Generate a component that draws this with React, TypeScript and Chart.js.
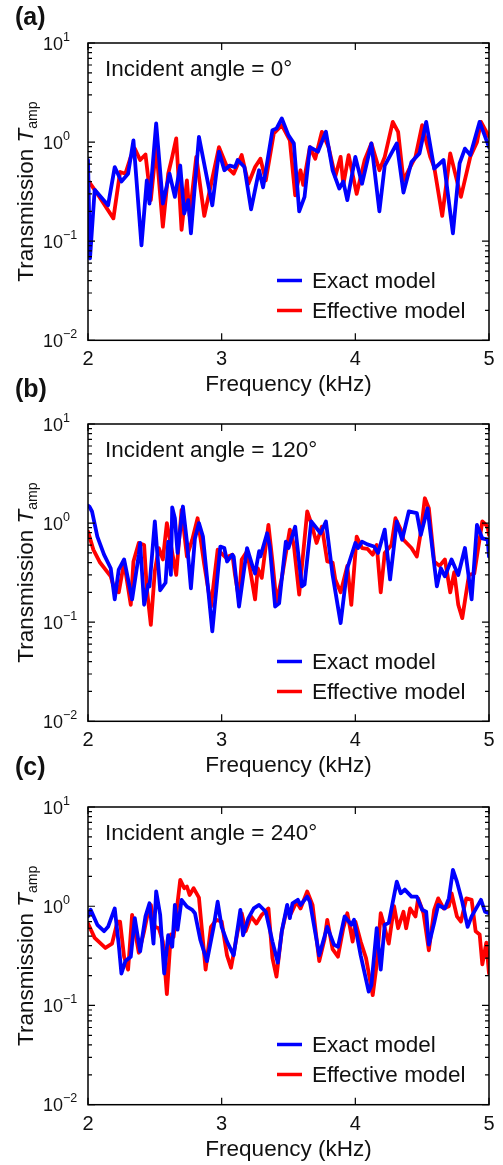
import React, { useEffect, useRef } from "react";
import { Chart, registerables } from "chart.js";

Chart.register(...registerables);

const FONT = '"Liberation Sans", Arial, Helvetica, sans-serif';

const xTicks = [2, 3, 4, 5];
const yDecades = [0.01, 0.1, 1, 10];
const yExponents = ["\u22122", "\u22121", "0", "1"];
const panelLetters = ["(a)", "(b)", "(c)"];
const angleLabels = ["Incident angle = 0°", "Incident angle = 120°", "Incident angle = 240°"];
const seriesNames = ["Exact model", "Effective model"];
const xTitle = "Frequency (kHz)";

// Panel (a), incident angle 0°
const aExact: [number, number][] = [
  [2.0, 0.66], [2.015, 0.067], [2.05, 0.33], [2.15, 0.23], [2.2, 0.56], [2.25, 0.4], [2.3, 0.48], [2.34, 1.04],
  [2.4, 0.091], [2.44, 0.41], [2.46, 0.24], [2.51, 1.54], [2.56, 0.24], [2.61, 0.48], [2.65, 0.28], [2.69, 0.58],
  [2.72, 0.19], [2.75, 0.26], [2.77, 0.12], [2.83, 1.13], [2.93, 0.23], [2.98, 0.8], [3.02, 0.52], [3.06, 0.58],
  [3.1, 0.56], [3.12, 0.66], [3.17, 0.56], [3.22, 0.21], [3.28, 0.52], [3.31, 0.35], [3.38, 1.32], [3.41, 1.37],
  [3.45, 1.73], [3.5, 1.17], [3.54, 0.97], [3.58, 0.2], [3.62, 0.28], [3.66, 0.89], [3.72, 0.8], [3.78, 1.27],
  [3.83, 0.52], [3.88, 0.34], [3.91, 0.4], [3.94, 0.26], [4.0, 0.71], [4.05, 0.38], [4.12, 0.97], [4.18, 0.2],
  [4.22, 0.58], [4.31, 0.97], [4.36, 0.31], [4.42, 0.63], [4.48, 0.77], [4.53, 1.6], [4.59, 0.54], [4.66, 0.66],
  [4.73, 0.12], [4.78, 0.61], [4.82, 0.86], [4.86, 0.74], [4.93, 1.6], [5.0, 0.89],
];
const aEffective: [number, number][] = [
  [2.0, 0.41], [2.05, 0.33], [2.19, 0.17], [2.24, 0.5], [2.28, 0.48], [2.32, 0.71], [2.35, 0.86], [2.39, 0.66],
  [2.43, 0.75], [2.47, 0.26], [2.51, 0.89], [2.56, 0.14], [2.6, 0.48], [2.63, 0.71], [2.66, 1.09], [2.7, 0.13],
  [2.74, 0.41], [2.76, 0.18], [2.81, 0.71], [2.87, 0.18], [2.98, 0.89], [3.04, 0.56], [3.09, 0.48], [3.15, 0.74],
  [3.2, 0.38], [3.25, 0.56], [3.29, 0.68], [3.33, 0.41], [3.39, 1.22], [3.45, 1.48], [3.51, 1.04], [3.55, 0.29],
  [3.59, 0.52], [3.61, 0.37], [3.66, 0.89], [3.7, 0.68], [3.75, 1.27], [3.8, 0.89], [3.85, 0.45], [3.89, 0.71],
  [3.91, 0.37], [3.95, 0.74], [4.01, 0.3], [4.07, 0.66], [4.12, 0.97], [4.18, 0.52], [4.22, 0.71], [4.28, 1.6],
  [4.32, 1.27], [4.36, 0.41], [4.41, 0.56], [4.45, 0.71], [4.5, 1.48], [4.56, 0.71], [4.59, 0.56], [4.65, 0.18],
  [4.71, 0.77], [4.76, 0.41], [4.79, 0.28], [4.86, 0.71], [4.91, 1.0], [4.94, 1.6], [5.0, 1.13],
];

// Panel (b), incident angle 120°
const bExact: [number, number][] = [
  [2.0, 1.5], [2.01, 1.47], [2.03, 1.31], [2.07, 0.73], [2.12, 0.48], [2.17, 0.35], [2.2, 0.17], [2.23, 0.34],
  [2.27, 0.43], [2.33, 0.17], [2.38, 0.48], [2.39, 0.63], [2.42, 0.15], [2.45, 0.24], [2.46, 0.23], [2.5, 1.04],
  [2.54, 0.21], [2.58, 0.25], [2.6, 0.65], [2.62, 0.3], [2.63, 1.44], [2.65, 1.12], [2.67, 0.5], [2.71, 1.47],
  [2.74, 0.65], [2.77, 0.22], [2.8, 0.7], [2.83, 1.0], [2.86, 0.73], [2.93, 0.081], [2.99, 0.58], [3.02, 0.56],
  [3.04, 0.41], [3.08, 0.48], [3.09, 0.46], [3.13, 0.144], [3.19, 0.56], [3.23, 0.37], [3.25, 0.31], [3.28, 0.52],
  [3.29, 0.46], [3.34, 0.79], [3.36, 0.58], [3.4, 0.144], [3.43, 0.155], [3.48, 0.65], [3.5, 0.56], [3.55, 0.92],
  [3.6, 0.23], [3.62, 0.24], [3.67, 1.04], [3.74, 0.79], [3.78, 1.04], [3.83, 0.3], [3.89, 0.098], [3.94, 0.35],
  [4.0, 0.63], [4.02, 0.56], [4.05, 0.65], [4.09, 0.61], [4.14, 0.58], [4.17, 0.5], [4.22, 0.86], [4.26, 0.27],
  [4.31, 1.04], [4.35, 0.68], [4.4, 1.31], [4.46, 1.26], [4.49, 0.76], [4.54, 1.41], [4.61, 0.23], [4.64, 0.35],
  [4.67, 0.29], [4.72, 0.43], [4.77, 0.3], [4.82, 0.56], [4.87, 0.17], [4.91, 0.96], [4.95, 0.7], [4.99, 0.68],
  [5.0, 0.46],
];
const bEffective: [number, number][] = [
  [2.0, 0.82], [2.04, 0.54], [2.09, 0.4], [2.17, 0.29], [2.2, 0.21], [2.23, 0.2], [2.27, 0.4], [2.32, 0.15],
  [2.34, 0.41], [2.38, 0.63], [2.42, 0.6], [2.44, 0.22], [2.47, 0.094], [2.5, 0.33], [2.53, 0.56], [2.56, 0.43],
  [2.59, 1.0], [2.62, 0.6], [2.66, 0.3], [2.7, 1.36], [2.74, 0.46], [2.78, 0.68], [2.82, 1.12], [2.87, 0.38],
  [2.92, 0.144], [2.97, 0.54], [3.03, 0.45], [3.08, 0.48], [3.1, 0.3], [3.13, 0.17], [3.15, 0.43], [3.19, 0.52],
  [3.25, 0.17], [3.27, 0.35], [3.3, 0.28], [3.35, 0.96], [3.38, 0.41], [3.41, 0.16], [3.45, 0.28], [3.51, 0.86],
  [3.54, 0.6], [3.58, 0.19], [3.64, 1.31], [3.67, 1.0], [3.71, 0.63], [3.75, 0.92], [3.79, 0.41], [3.83, 0.4],
  [3.85, 0.27], [3.89, 0.2], [3.94, 0.37], [3.97, 0.15], [4.01, 0.73], [4.05, 0.56], [4.09, 0.55], [4.13, 0.48],
  [4.16, 0.6], [4.19, 0.2], [4.22, 0.5], [4.27, 0.6], [4.3, 1.12], [4.34, 0.86], [4.36, 0.68], [4.42, 0.56],
  [4.46, 0.46], [4.49, 0.81], [4.52, 1.78], [4.55, 1.41], [4.59, 0.41], [4.63, 0.37], [4.67, 0.43], [4.71, 0.2],
  [4.74, 0.32], [4.77, 0.15], [4.8, 0.11], [4.85, 0.3], [4.89, 0.31], [4.95, 1.04], [4.99, 0.92], [5.0, 0.76],
];

// Panel (c), incident angle 240°
const cExact: [number, number][] = [
  [2.0, 0.79], [2.02, 0.92], [2.07, 0.65], [2.12, 0.56], [2.15, 0.62], [2.2, 0.95], [2.23, 0.41], [2.25, 0.21],
  [2.28, 0.28], [2.32, 0.31], [2.35, 0.76], [2.39, 0.35], [2.43, 0.79], [2.46, 1.07], [2.49, 0.42], [2.51, 1.41],
  [2.54, 0.82], [2.57, 0.21], [2.6, 0.51], [2.63, 0.39], [2.65, 1.03], [2.67, 0.58], [2.7, 1.16], [2.74, 0.99],
  [2.78, 0.92], [2.8, 0.85], [2.84, 0.46], [2.89, 0.28], [2.94, 0.62], [2.97, 1.11], [3.0, 0.62], [3.04, 0.44],
  [3.09, 0.32], [3.14, 0.92], [3.16, 0.51], [3.2, 0.76], [3.24, 0.95], [3.28, 1.03], [3.33, 0.88], [3.38, 0.44],
  [3.42, 0.27], [3.45, 0.56], [3.49, 1.03], [3.51, 0.76], [3.53, 1.07], [3.57, 1.16], [3.59, 1.03], [3.64, 1.25],
  [3.66, 1.11], [3.73, 0.32], [3.79, 0.62], [3.84, 0.41], [3.87, 0.39], [3.92, 0.79], [3.97, 0.65], [3.99, 0.73],
  [4.04, 0.32], [4.1, 0.138], [4.12, 0.16], [4.16, 0.6], [4.19, 0.23], [4.22, 0.65], [4.25, 0.68], [4.31, 1.77],
  [4.34, 1.35], [4.37, 1.47], [4.42, 1.25], [4.46, 1.25], [4.5, 0.92], [4.53, 0.88], [4.55, 0.41], [4.59, 0.68],
  [4.62, 1.03], [4.67, 0.95], [4.7, 1.2], [4.73, 2.32], [4.76, 1.77], [4.8, 1.11], [4.84, 0.62], [4.87, 0.79],
  [4.94, 1.16], [4.97, 0.88], [5.0, 0.85],
];
const cEffective: [number, number][] = [
  [2.0, 0.67], [2.05, 0.48], [2.13, 0.38], [2.18, 0.42], [2.22, 0.7], [2.24, 0.7], [2.27, 0.31], [2.3, 0.23],
  [2.33, 0.82], [2.38, 0.34], [2.42, 0.56], [2.45, 0.88], [2.47, 1.03], [2.5, 0.62], [2.53, 0.6], [2.56, 0.44],
  [2.59, 0.13], [2.62, 0.52], [2.64, 0.49], [2.69, 1.84], [2.72, 1.52], [2.74, 1.58], [2.76, 1.3], [2.79, 1.52],
  [2.83, 1.22], [2.88, 0.23], [2.92, 0.62], [2.96, 0.73], [3.0, 0.7], [3.04, 0.32], [3.07, 0.24], [3.12, 0.56],
  [3.15, 0.85], [3.18, 0.56], [3.22, 0.79], [3.26, 0.67], [3.3, 0.82], [3.35, 0.95], [3.38, 0.3], [3.41, 0.195],
  [3.45, 0.56], [3.49, 0.96], [3.52, 0.85], [3.56, 1.11], [3.59, 0.95], [3.64, 1.41], [3.68, 1.03], [3.73, 0.28],
  [3.77, 0.47], [3.79, 0.73], [3.83, 0.37], [3.87, 0.31], [3.91, 0.6], [3.94, 0.85], [3.98, 0.44], [4.0, 0.7],
  [4.04, 0.44], [4.08, 0.3], [4.13, 0.127], [4.16, 0.26], [4.19, 0.85], [4.21, 0.68], [4.25, 0.42], [4.29, 1.0],
  [4.32, 0.6], [4.36, 0.88], [4.38, 0.6], [4.41, 0.95], [4.45, 0.79], [4.47, 1.2], [4.51, 0.85], [4.55, 0.36],
  [4.59, 0.92], [4.62, 1.2], [4.66, 0.95], [4.7, 1.0], [4.72, 1.35], [4.76, 0.79], [4.79, 0.7], [4.83, 1.2],
  [4.87, 1.16], [4.9, 0.56], [4.93, 0.52], [4.95, 0.26], [4.98, 0.43], [5.0, 0.21],
];

const exactSeries = [aExact, bExact, cExact];
const effectiveSeries = [aEffective, bEffective, cEffective];

// layout (pixels)
const W = 503;
const H = 415;
const canvasTops = [0, 370, 750];
const plotTops = [43, 54, 57];
const plotBottoms = [340.3, 351.3, 354.7];
const letterBaselines = [25, 26.6, 25.3];
const PLOT_LEFT = 88;
const PLOT_RIGHT = 489;
const BLUE = "#0000ff";
const RED = "#ff0000";
const TEXT = "#111";

function makeDecor(idx: number) {
  return {
    id: "decor" + idx,
    afterDatasetsDraw(chart: any) {
      const ctx: CanvasRenderingContext2D = chart.ctx;
      const { left, right, top, bottom } = chart.chartArea;
      const xs = chart.scales.x;
      const ys = chart.scales.y;
      ctx.save();
      ctx.strokeStyle = "#000";
      ctx.fillStyle = TEXT;

      // frame
      ctx.lineWidth = 1.5;
      ctx.strokeRect(left, top, right - left, bottom - top);

      // ticks (inward, mirrored)
      ctx.lineWidth = 1.2;
      ctx.beginPath();
      for (const v of xTicks) {
        const px = xs.getPixelForValue(v);
        ctx.moveTo(px, bottom);
        ctx.lineTo(px, bottom - 7);
        ctx.moveTo(px, top);
        ctx.lineTo(px, top + 7);
      }
      for (let d = 0; d < yDecades.length; d++) {
        const base = yDecades[d];
        const py = ys.getPixelForValue(base);
        ctx.moveTo(left, py);
        ctx.lineTo(left + 7, py);
        ctx.moveTo(right, py);
        ctx.lineTo(right - 7, py);
        if (d < yDecades.length - 1) {
          for (let m = 2; m <= 9; m++) {
            const pm = ys.getPixelForValue(base * m);
            ctx.moveTo(left, pm);
            ctx.lineTo(left + 4, pm);
            ctx.moveTo(right, pm);
            ctx.lineTo(right - 4, pm);
          }
        }
      }
      ctx.stroke();

      // x tick labels
      ctx.textBaseline = "alphabetic";
      ctx.textAlign = "center";
      ctx.font = `20px ${FONT}`;
      for (const v of xTicks) {
        ctx.fillText(String(v), xs.getPixelForValue(v), bottom + 25);
      }

      // y tick labels 10^n
      for (let d = 0; d < yDecades.length; d++) {
        const py = ys.getPixelForValue(yDecades[d]);
        ctx.textAlign = "right";
        ctx.font = `18px ${FONT}`;
        ctx.fillText("10", left - 25, py + 6.5);
        ctx.textAlign = "left";
        ctx.font = `12.5px ${FONT}`;
        ctx.fillText(yExponents[d], left - 25, py - 2.5);
      }

      // x title
      ctx.textAlign = "center";
      ctx.font = `22.5px ${FONT}`;
      ctx.fillText(xTitle, (left + right) / 2, bottom + 51);

      // y title (rotated) "Transmission T_amp"
      ctx.save();
      ctx.translate(33, (top + bottom) / 2);
      ctx.rotate(-Math.PI / 2);
      ctx.textAlign = "left";
      const mainFont = `22.5px ${FONT}`;
      const italFont = `italic 22.5px ${FONT}`;
      const subFont = `14px ${FONT}`;
      ctx.font = mainFont;
      const w1 = ctx.measureText("Transmission ").width;
      ctx.font = italFont;
      const w2 = ctx.measureText("T").width;
      ctx.font = subFont;
      const w3 = ctx.measureText("amp").width;
      const total = w1 + w2 + w3;
      let tx = -total / 2;
      ctx.font = mainFont;
      ctx.fillText("Transmission ", tx, 0);
      tx += w1;
      ctx.font = italFont;
      ctx.fillText("T", tx, 0);
      tx += w2;
      ctx.font = subFont;
      ctx.fillText("amp", tx, 4);
      ctx.restore();

      // annotation
      ctx.textAlign = "left";
      ctx.font = `22.5px ${FONT}`;
      ctx.fillText(angleLabels[idx], left + 17, top + 33);

      // legend
      const colors = [BLUE, RED];
      const lineYs = [top + 237.5, top + 267.5];
      const textYs = [top + 245, top + 275];
      for (let i = 0; i < 2; i++) {
        ctx.strokeStyle = colors[i];
        ctx.lineWidth = 3.5;
        ctx.beginPath();
        ctx.moveTo(left + 189, lineYs[i]);
        ctx.lineTo(left + 214, lineYs[i]);
        ctx.stroke();
        ctx.fillStyle = TEXT;
        ctx.fillText(seriesNames[i], left + 224, textYs[i]);
      }

      // panel letter
      ctx.font = `bold 25px ${FONT}`;
      ctx.fillText(panelLetters[idx], 15, letterBaselines[idx]);

      ctx.restore();
    },
  };
}

function Panel({ idx }: { idx: number }) {
  const ref = useRef<HTMLCanvasElement>(null);
  useEffect(() => {
    if (!ref.current) return;
    const chart = new Chart(ref.current, {
      type: "line",
      data: {
        datasets: [
          {
            label: seriesNames[0],
            data: exactSeries[idx].map(([x, y]) => ({ x, y })),
            borderColor: BLUE,
            backgroundColor: BLUE,
          },
          {
            label: seriesNames[1],
            data: effectiveSeries[idx].map(([x, y]) => ({ x, y })),
            borderColor: RED,
            backgroundColor: RED,
          },
        ],
      },
      options: {
        responsive: false,
        animation: false,
        devicePixelRatio: 1,
        layout: {
          padding: {
            left: PLOT_LEFT,
            right: W - PLOT_RIGHT,
            top: plotTops[idx],
            bottom: H - plotBottoms[idx],
          },
        },
        elements: {
          point: { radius: 0, hoverRadius: 0 },
          line: { borderWidth: 3.8, tension: 0, borderJoinStyle: "round", borderCapStyle: "round" },
        },
        plugins: { legend: { display: false }, tooltip: { enabled: false } },
        scales: {
          x: { type: "linear", min: 2, max: 5, display: false },
          y: { type: "logarithmic", min: 0.01, max: 10, display: false },
        },
      } as any,
      plugins: [makeDecor(idx)],
    });
    return () => chart.destroy();
  }, [idx]);
  return (
    <canvas
      ref={ref}
      width={W}
      height={H}
      style={{ position: "absolute", left: 0, top: canvasTops[idx], width: W, height: H }}
    />
  );
}

export default function App() {
  return (
    <div style={{ position: "absolute", left: 0, top: 0, width: W, height: 1165, background: "#fff", overflow: "hidden" }}>
      <Panel idx={0} />
      <Panel idx={1} />
      <Panel idx={2} />
    </div>
  );
}
